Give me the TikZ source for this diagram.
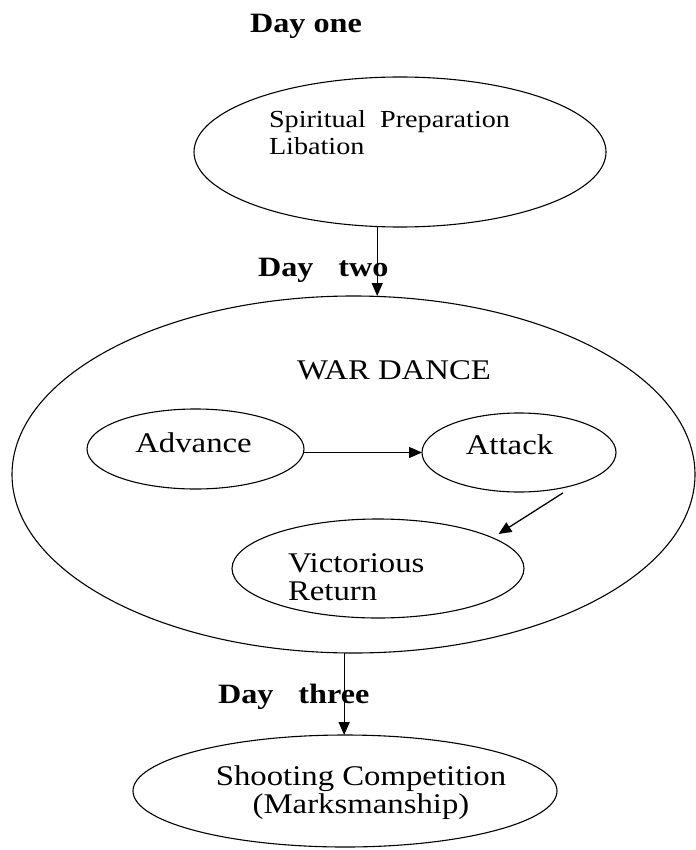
\documentclass[tikz,border=0pt]{standalone}
\usepackage{fontspec}
\setmainfont{Liberation Serif}[FakeStretch=1.15]
\usetikzlibrary{shapes.geometric,arrows.meta}
\begin{document}
\begin{tikzpicture}[x=1pt,y=-1pt,
  oval/.style={ellipse,draw,line width=1.1pt,inner sep=0pt,outer sep=0pt},
  arr/.style={line width=1.3pt,-{Triangle[length=13pt,width=11pt]}},
  txt/.style={inner sep=0pt,outer sep=0pt},
  daylbl/.style={txt,font=\fontsize{28}{30}\selectfont\bfseries},
  big/.style={txt,font=\fontsize{28.5}{28}\selectfont}]
\useasboundingbox (0,0) rectangle (695,850);
% ellipses
\node[oval,minimum width=412pt,minimum height=150pt] (top) at (400,152) {};
\node[oval,minimum width=683pt,minimum height=357pt] (war) at (353.5,474.5) {};
\node[oval,minimum width=217pt,minimum height=80pt] (adv) at (195.5,449) {};
\node[oval,minimum width=194pt,minimum height=79pt] (att) at (519,452.5) {};
\node[oval,minimum width=292pt,minimum height=99pt] (vic) at (378,568.5) {};
\node[oval,minimum width=424pt,minimum height=112pt] (sho) at (345,791) {};
% texts
\node[daylbl,anchor=base west] (d1) at (250,33) {Day one};
\node[txt,anchor=base west,align=left,font=\fontsize{24.5}{27}\selectfont] (sp) at (269,155) {Spiritual\ \ Preparation\\Libation};
\node[daylbl,anchor=base west] (d2) at (258,276) {Day\hspace{25pt}two};
\node[big,anchor=base west] (wd) at (297,379) {WAR DANCE};
\node[big,anchor=base] (advt) at (193.5,452) {Advance};
\node[big,anchor=base] (attt) at (509.5,454) {Attack};
\node[big,anchor=base west,align=left] (vict) at (288,600) {Victorious\\Return};
\node[daylbl,anchor=base west] (d3) at (218,703) {Day\hspace{25pt}three};
\node[big,anchor=base,align=center] (shot) at (361,813) {Shooting Competition\\(Marksmanship)};
% connectors
\draw[arr] (top.253.35) -- (top.253.35 |- war.north);
\draw[arr] (adv.east |- att.west) -- (att.west);
\draw[arr,shorten <=16pt,shorten >=7pt] (att.-29) -- (vic.15);
\draw[arr] (war.267) -- (war.267 |- sho.north);
\end{tikzpicture}
\end{document}
